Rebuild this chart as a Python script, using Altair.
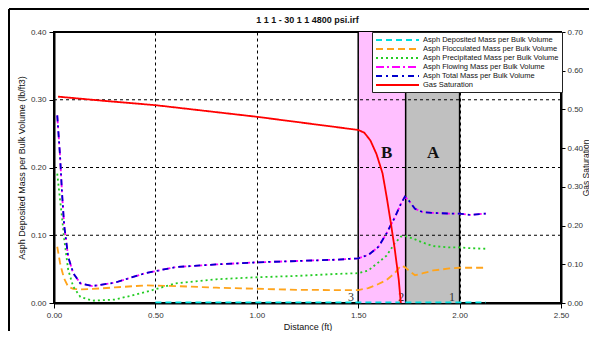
import altair as alt
import pandas as pd

# ---------------- data ----------------
x_pts = [0.016, 0.03, 0.04, 0.05, 0.07, 0.095, 0.13, 0.19, 0.3, 0.45, 0.6, 0.8,
         1.0, 1.2, 1.4, 1.5, 1.55, 1.6, 1.64, 1.68, 1.71, 1.73, 1.75, 1.78, 1.82,
         1.87, 1.95, 2.0, 2.05, 2.13]
total_mass = [0.277, 0.216, 0.16, 0.115, 0.068, 0.044, 0.029, 0.025, 0.030, 0.044,
              0.053, 0.057, 0.060, 0.062, 0.064, 0.066, 0.071, 0.083, 0.103, 0.126,
              0.146, 0.157, 0.151, 0.139, 0.134, 0.133, 0.132, 0.132, 0.130, 0.132]
flowing_mass = [0.277, 0.216, 0.16, 0.115, 0.068, 0.044, 0.029, 0.025, 0.030, 0.044,
                0.053, 0.057, 0.060, 0.062, 0.064, 0.066, 0.071, 0.083, 0.103, 0.126,
                0.146, 0.157, 0.151, 0.139, 0.134, 0.133, 0.132, 0.132, 0.130, 0.132]
precip_mass = [0.191, 0.152, 0.125, 0.095, 0.049, 0.024, 0.009, 0.0035, 0.005, 0.016,
               0.029, 0.035, 0.038, 0.040, 0.043, 0.044, 0.048, 0.060, 0.070, 0.088,
               0.098, 0.099, 0.097, 0.094, 0.089, 0.084, 0.082, 0.082, 0.081, 0.080]
floc_mass = [0.083, 0.059, 0.047, 0.036, 0.024, 0.021, 0.020, 0.0207, 0.023, 0.026,
             0.025, 0.0226, 0.021, 0.0195, 0.019, 0.019, 0.022, 0.028, 0.034, 0.044,
             0.055, 0.053, 0.048, 0.041, 0.044, 0.048, 0.051, 0.052, 0.052, 0.052]
dep_x = [0.5, 1.0, 1.5, 2.0, 2.13]
dep_mass = [0.001, 0.001, 0.001, 0.001, 0.001]

gas_x = [0.02, 0.25, 0.5, 0.75, 1.0, 1.25, 1.5, 1.53, 1.56, 1.59, 1.62, 1.64,
         1.66, 1.68, 1.70, 1.71]
gas_sat = [0.533, 0.522, 0.511, 0.496, 0.481, 0.464, 0.447, 0.440, 0.420, 0.385,
           0.335, 0.275, 0.21, 0.14, 0.06, 0.0]

series_names = ["Asph Deposited Mass per Bulk Volume",
                "Asph Flocculated Mass per Bulk Volume",
                "Asph Precipitated Mass per Bulk Volume",
                "Asph Flowing Mass per Bulk Volume",
                "Asph Total Mass per Bulk Volume",
                "Gas Saturation"]
series_colors = ["#00E0E0", "#FFA41C", "#22CC22", "#FF00FF", "#0000CC", "#FF0000"]
series_dashes = [[6, 4], [7, 4], [2, 3], [8, 3, 2, 3], [6, 4, 2, 4], [1, 0]]

zone_start = [1.5, 1.734]
zone_end = [1.734, 2.0]
zone_fill = ["#FFBFFF", "#C0C0C0"]
boundaries = [1.5, 1.734, 2.0]
zone_labels = ["B", "A"]
zone_label_x = [1.64, 1.87]
zone_label_y = [0.221, 0.221]
num_labels = ["3", "2", "1"]
num_label_x = [1.465, 1.712, 1.963]
num_label_y = [0.0, 0.0, 0.0]
grid_y = [0.1, 0.2, 0.3]
x_ticks = [0, 0.5, 1.0, 1.5, 2.0, 2.5]
y_ticks = [0, 0.1, 0.2, 0.3, 0.4]
y2_ticks = [0, 0.1, 0.2, 0.3, 0.4, 0.5, 0.6, 0.7]

# ---------------- tables ----------------
rows = []
for name, xs, vals in [
    (series_names[0], dep_x, dep_mass),
    (series_names[1], x_pts, floc_mass),
    (series_names[2], x_pts, precip_mass),
    (series_names[3], x_pts, flowing_mass),
    (series_names[4], x_pts, total_mass),
]:
    for xv, yv in zip(xs, vals):
        rows.append({"series": name, "x": xv, "v": yv})
mass_df = pd.DataFrame(rows)
gas_df = pd.DataFrame({"x": gas_x, "gas": gas_sat, "series": series_names[5]})
zones_df = pd.DataFrame({"x0": zone_start, "x1": zone_end, "fill": zone_fill})
bounds_df = pd.DataFrame({"b": boundaries})
grid_df = pd.DataFrame({"g": grid_y})
zl_df = pd.DataFrame({"t": zone_labels, "x": zone_label_x, "y": zone_label_y})
nl_df = pd.DataFrame({"t": num_labels, "x": num_label_x, "y": num_label_y})
one_df = pd.DataFrame({"k": [0]})

FONT = "Liberation Sans"
xscale = alt.Scale(domain=[0, 2.5], nice=False, zero=False)
yscale = alt.Scale(domain=[0, 0.4], nice=False)
y2scale = alt.Scale(domain=[0, 0.7], nice=False)
color_scale = alt.Scale(domain=series_names, range=series_colors)
dash_scale = alt.Scale(domain=series_names, range=series_dashes)

x_axis = alt.Axis(values=x_ticks, format=".2f", grid=True, gridDash=[3, 3],
                  gridColor="black", gridWidth=1, gridOpacity=1,
                  tickSize=5, tickColor="black", domainColor="black",
                  domainWidth=2, labelFontSize=8, labelColor="#333",
                  labelFont=FONT, labelFlush=False,
                  title="Distance (ft)", titleFont=FONT,
                  titleFontSize=9, titleFontWeight="normal", titlePadding=3,
                  titleColor="#111", labelPadding=3)
y_axis = alt.Axis(values=y_ticks, format=".2f", grid=False, tickSize=5,
                  tickColor="black", domainColor="black", domainWidth=2,
                  labelFontSize=8, labelColor="#333", labelFont=FONT,
                  labelPadding=3, labelFlush=False,
                  title="Asph Deposited Mass per Bulk Volume (lb/ft3)",
                  titleFont=FONT, titleFontSize=9, titleFontWeight="normal",
                  titleColor="#111", titlePadding=4)
y2_axis = alt.Axis(values=y2_ticks, format=".2f", grid=False, orient="right",
                   tickSize=4, tickColor="black", domainColor="black",
                   domainWidth=2, labelFontSize=8, labelColor="#333",
                   labelFont=FONT, labelPadding=2, labelFlush=False,
                   title="Gas Saturation",
                   titleFont=FONT, titleFontSize=8.5, titleFontWeight="normal",
                   titleColor="#111", titleAngle=270, titleX=24,
                   titleBaseline="middle")

legend = alt.Legend(title=None, orient="none", legendX=318, legendY=0,
                    strokeColor="#222", fillColor="white", padding=3,
                    labelFont=FONT, labelFontSize=7.5, labelColor="#111",
                    symbolType="M-1,0H9.75", symbolSize=64, symbolStrokeWidth=2,
                    labelOffset=38, rowPadding=0, labelLimit=300)

zones = alt.Chart(zones_df).mark_rect().encode(
    x=alt.X("x0:Q", scale=xscale, axis=x_axis), x2="x1:Q",
    y=alt.Y(datum=0, scale=yscale, axis=y_axis), y2=alt.Y2(datum=0.4),
    fill=alt.Fill("fill:N", scale=None))

hgrid = alt.Chart(grid_df).mark_rule(color="black", strokeDash=[3, 3],
                                     strokeWidth=1).encode(
    y=alt.Y("g:Q", scale=yscale, axis=y_axis))

bounds = alt.Chart(bounds_df).mark_rule(color="black", strokeWidth=1.5).encode(
    x=alt.X("b:Q", scale=xscale, axis=x_axis))

lines = alt.Chart(mass_df).mark_line(strokeWidth=1.8).encode(
    x=alt.X("x:Q", scale=xscale, axis=x_axis),
    y=alt.Y("v:Q", scale=yscale, axis=y_axis),
    color=alt.Color("series:N", scale=color_scale, legend=legend),
    strokeDash=alt.StrokeDash("series:N", scale=dash_scale, legend=legend),
    order=alt.Order("x:Q"))

zone_text = alt.Chart(zl_df).mark_text(font="Liberation Serif", fontSize=17,
                                       fontWeight="bold", color="#111").encode(
    x=alt.X("x:Q", scale=xscale, axis=x_axis),
    y=alt.Y("y:Q", scale=yscale, axis=y_axis), text="t:N")

num_text = alt.Chart(nl_df).mark_text(font="Liberation Serif", fontSize=12,
                                      baseline="bottom", color="#333",
                                      dy=1).encode(
    x=alt.X("x:Q", scale=xscale, axis=x_axis),
    y=alt.Y("y:Q", scale=yscale, axis=y_axis), text="t:N")

frame_top = alt.Chart(one_df).mark_rule(color="black", strokeWidth=2).encode(
    x=alt.value(-45), x2=alt.value(540), y=alt.value(-23))
frame_left = alt.Chart(one_df).mark_rule(color="black", strokeWidth=2).encode(
    x=alt.value(-45), y=alt.value(-23), y2=alt.value(310))

left = alt.layer(zones, hgrid, bounds, lines, zone_text, num_text,
                 frame_top, frame_left)

gas = alt.Chart(gas_df).mark_line(strokeWidth=1.8).encode(
    x=alt.X("x:Q", scale=xscale, axis=x_axis),
    y=alt.Y("gas:Q", scale=y2scale, axis=y2_axis),
    color=alt.Color("series:N", scale=color_scale, legend=legend),
    strokeDash=alt.StrokeDash("series:N", scale=dash_scale, legend=legend),
    order=alt.Order("x:Q"))

chart = alt.layer(left, gas).resolve_scale(y="independent").properties(
    width=507, height=271,
    autosize=alt.AutoSizeParams(type="none"),
    padding={"left": 46, "top": 24, "right": 28, "bottom": 28},
    title=alt.TitleParams("1 1 1 - 30 1 1 4800 psi.irf", font=FONT, fontSize=9,
                          fontWeight="bold", color="#111", offset=-17,
                          anchor="middle", frame="group"),
).configure_view(stroke="black", strokeWidth=2)

chart.save("out.html", embed_options={"renderer": "svg", "actions": False})
